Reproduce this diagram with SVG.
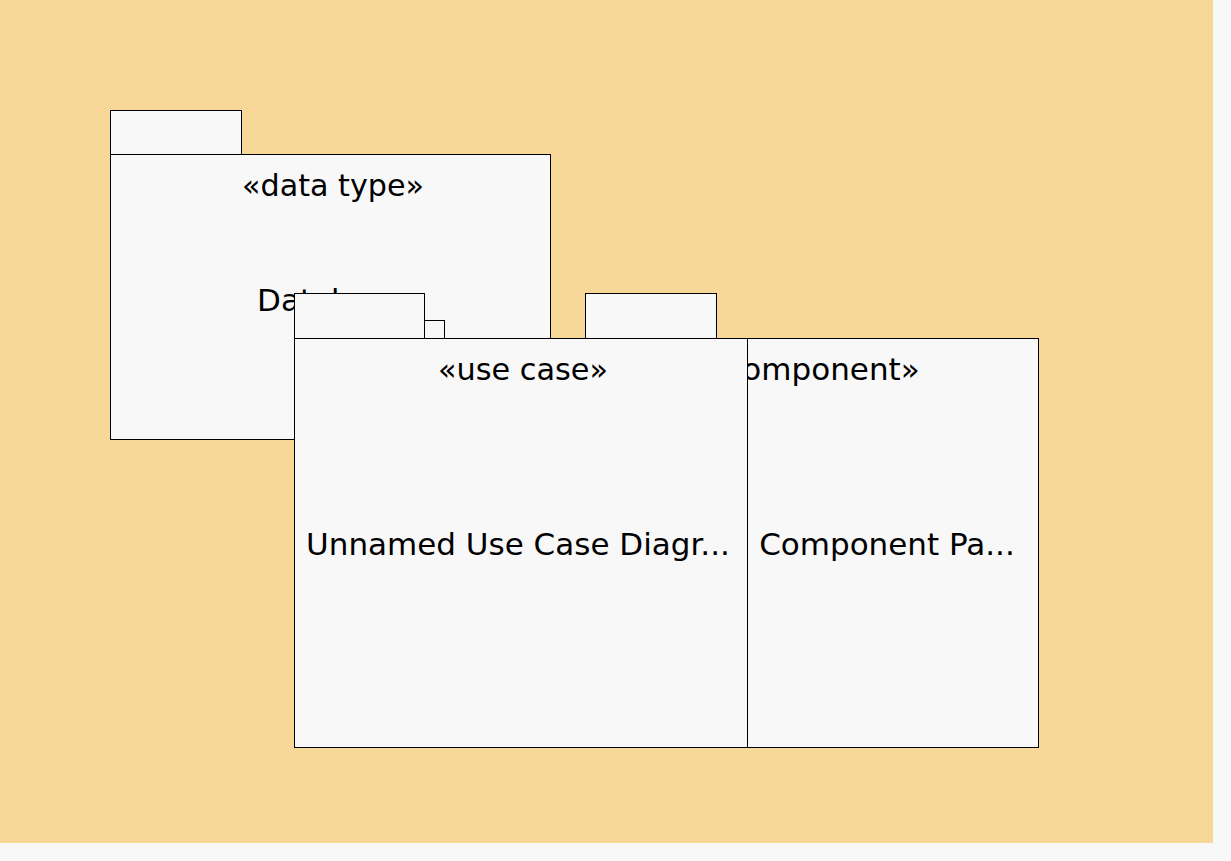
<svg xmlns="http://www.w3.org/2000/svg" width="1231" height="861" viewBox="0 0 1231 861">
<style>
.bg{fill:#F7D898}
.box{fill:#F8F8F8;stroke:#000;stroke-width:1}
.t{font-family:"DejaVu Sans","Verdana",sans-serif;font-size:31px;fill:#000;text-anchor:middle}
</style>
<rect x="0" y="0" width="1231" height="861" fill="#F8F8F8"/>
<rect class="bg" x="0" y="0" width="1213" height="843"/>
<g id="pkg-datatype">
<rect class="box" x="110.5" y="110.5" width="131" height="44"/>
<rect class="box" x="110.5" y="154.5" width="440" height="285"/>
<text class="t" x="333" y="196" textLength="182" lengthAdjust="spacingAndGlyphs">«data type»</text>
<text class="t" x="331" y="311">Database</text>
</g>
<g id="pkg-component">
<rect class="box" x="585.5" y="293.5" width="131" height="45"/>
<rect class="box" x="585.5" y="338.5" width="453" height="409"/>
<text class="t" x="813" y="380">«component»</text>
<text class="t" x="887" y="555">Component Pa...</text>
</g>
<g id="pkg-usecase">
<rect class="box" x="424.5" y="320.5" width="20" height="18"/>
<rect class="box" x="294.5" y="293.5" width="130" height="45"/>
<rect class="box" x="294.5" y="338.5" width="453" height="409"/>
<text class="t" x="523" y="380" textLength="170" lengthAdjust="spacingAndGlyphs">«use case»</text>
<text class="t" x="518" y="555">Unnamed Use Case Diagr...</text>
</g>
<g id="connectors"/>
</svg>
